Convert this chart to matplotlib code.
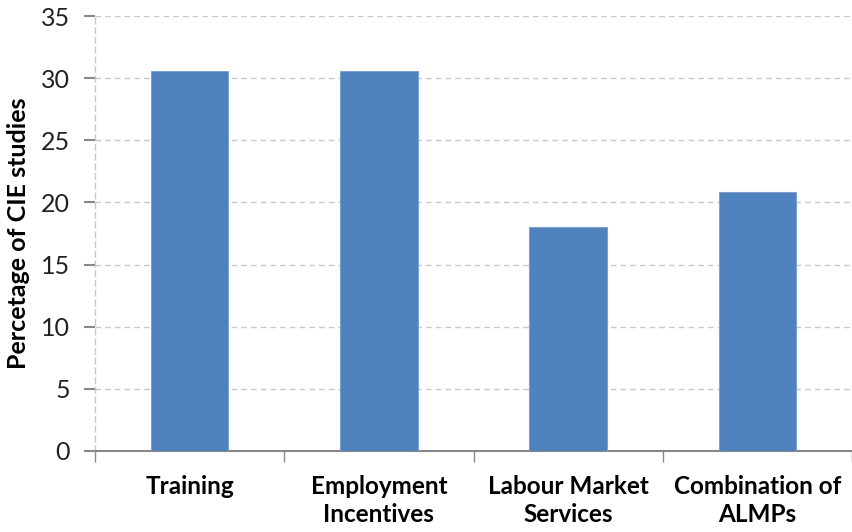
import matplotlib
matplotlib.use("Agg")
import matplotlib.pyplot as plt
import numpy as np

categories = ["Training", "Employment\nIncentives", "Labour Market\nServices", "Combination of\nALMPs"]
values = [30.6, 30.6, 18.0, 20.8]
yticks = [0, 5, 10, 15, 20, 25, 30, 35]

plt.rcParams['font.family'] = ['Lato', 'DejaVu Sans']

fig = plt.figure(figsize=(8.52, 5.32), dpi=100)
ax = fig.add_axes([95/852, (532-451)/532, (852-95)/852, (451-16)/532])

x = np.arange(len(categories))
ax.bar(x, values, width=0.41, color="#4F81BD", edgecolor="#7FA1CF", linewidth=0.8, zorder=3)

ax.set_xlim(-0.5, len(categories) - 0.5)
ax.set_ylim(0, 35)
ax.set_yticks(yticks)
ax.set_yticklabels([str(t) for t in yticks], fontsize=18, color="#222222")
ax.yaxis.grid(True, linestyle=(0, (4, 3)), color="#C8C8C8", linewidth=1.0, zorder=0)

ax.set_xticks(np.arange(len(categories) + 1) - 0.5, minor=True)
ax.set_xticks(x)
ax.set_xticklabels(categories, fontsize=17.5, fontweight="bold", linespacing=1.3)
ax.tick_params(axis='x', which='major', length=0, pad=17)
ax.tick_params(axis='x', which='minor', length=8, color="#888888", width=1)
ax.tick_params(axis='y', length=8, color="#888888", width=1.5, pad=10)

for s in ["top", "right"]:
    ax.spines[s].set_visible(False)
ax.spines["left"].set_linestyle((0, (4, 3)))
ax.spines["left"].set_color("#C8C8C8")
ax.spines["left"].set_linewidth(1.0)
ax.spines["bottom"].set_color("#888888")
ax.spines["bottom"].set_linewidth(1.5)

ax.set_ylabel("Percetage of CIE studies", fontsize=18, fontweight="bold", labelpad=8)

fig.savefig("out.png", dpi=100)
